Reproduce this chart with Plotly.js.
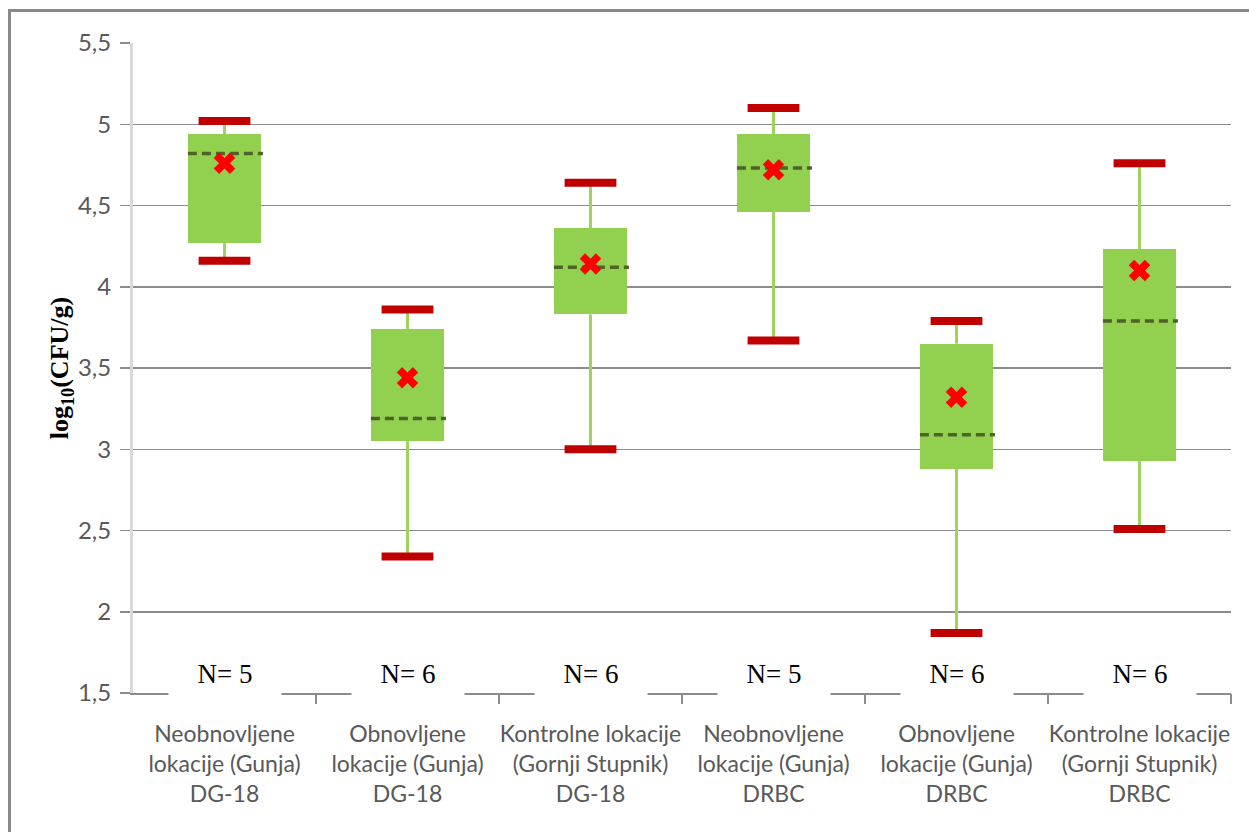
<!DOCTYPE html>
<html>
<head>
<meta charset="utf-8">
<script src="https://cdn.plot.ly/plotly-3.0.1.min.js"></script>
<style>
  html, body { margin: 0; padding: 0; background: #fff; }
  #wrap { position: relative; width: 1249px; height: 832px; overflow: hidden; }
  #frame { position: absolute; left: 8px; top: 9px; width: 1300px; height: 900px;
           border-left: 3px solid #8a8a8a; border-top: 3px solid #8a8a8a; }
  #chart { position: absolute; left: 0; top: 0; width: 1249px; height: 832px; }
</style>
</head>
<body>
<div id="wrap">
  <div id="frame"></div>
  <div id="chart"></div>
</div>
<script>
// ---- data ----
const categories = [
  "Neobnovljene<br>lokacije (Gunja)<br>DG-18",
  "Obnovljene<br>lokacije (Gunja)<br>DG-18",
  "Kontrolne lokacije<br>(Gornji Stupnik)<br>DG-18",
  "Neobnovljene<br>lokacije (Gunja)<br>DRBC",
  "Obnovljene<br>lokacije (Gunja)<br>DRBC",
  "Kontrolne lokacije<br>(Gornji Stupnik)<br>DRBC"
];
const nCounts = [5, 6, 6, 5, 6, 6];
const mins    = [4.16, 2.34, 3.00, 3.67, 1.87, 2.51];
const q1      = [4.27, 3.05, 3.83, 4.46, 2.88, 2.93];
const medians = [4.82, 3.19, 4.12, 4.73, 3.09, 3.79];
const q3      = [4.94, 3.74, 4.36, 4.94, 3.65, 4.23];
const maxs    = [5.02, 3.86, 4.64, 5.10, 3.79, 4.76];
const means   = [4.76, 3.44, 4.14, 4.72, 3.32, 4.10];
const yTicks  = [1.5, 2, 2.5, 3, 3.5, 4, 4.5, 5, 5.5];

// ---- derived positions ----
const idx = categories.map((_, i) => i);
const boundaries = idx.map(i => i + 0.5);
const boxHalf = 0.2;

const wx = [], wy = [];
idx.forEach(i => {
  wx.push(i, i, null, i, i, null);
  wy.push(mins[i], q1[i], null, q3[i], maxs[i], null);
});
const mx = [], my = [];
idx.forEach(i => {
  mx.push(i - boxHalf, i + boxHalf + 0.01, null);
  my.push(medians[i], medians[i], null);
});

const traces = [
  { type: 'bar', x: idx, base: q1, y: idx.map(i => q3[i] - q1[i]),
    width: 2 * boxHalf, marker: { color: '#92D050', line: { width: 0 } },
    hoverinfo: 'skip', showlegend: false },
  { type: 'scatter', mode: 'lines', x: wx, y: wy,
    line: { color: '#9ED35F', width: 3 }, hoverinfo: 'skip', showlegend: false },
  { type: 'scatter', mode: 'markers', x: idx.concat(idx), y: maxs.concat(mins),
    marker: { symbol: 'line-ew', size: 37, line: { color: '#C00000', width: 8 } },
    hoverinfo: 'skip', showlegend: false },
  { type: 'scatter', mode: 'lines', x: mx, y: my,
    line: { color: '#4F6228', width: 3.5, dash: '9px,5px' }, hoverinfo: 'skip', showlegend: false },
  { type: 'scatter', mode: 'markers', x: idx, y: means,
    marker: { symbol: 'x', size: 19, color: '#FF0000', line: { width: 0 } },
    hoverinfo: 'skip', showlegend: false },
  { type: 'scatter', mode: 'markers', x: boundaries, y: boundaries.map(() => 1.5),
    xaxis: 'x2', marker: { opacity: 0 }, hoverinfo: 'skip', showlegend: false }
];

const annotations = idx.map(i => ({
  x: i, xref: 'x', y: 0, yref: 'paper', yanchor: 'middle', yshift: 19,
  text: 'N= ' + nCounts[i], showarrow: false,
  font: { family: 'Liberation Serif, Times New Roman, serif', size: 27, color: '#000' },
  bgcolor: '#ffffff', width: 104, height: 38, borderpad: 4
}));

const layout = {
  width: 1249, height: 832,
  margin: { l: 133, r: 18, t: 43, b: 139 },
  paper_bgcolor: 'rgba(0,0,0,0)', plot_bgcolor: 'rgba(0,0,0,0)',
  separators: ',.',
  showlegend: false,
  xaxis: {
    range: [-0.5, 5.5], tickvals: idx, ticktext: categories,
    ticks: '', showgrid: false, zeroline: false,
    showline: true, linecolor: '#8c8c8c', linewidth: 1.5,
    ticklabelstandoff: 20,
    tickfont: { family: 'Lato, Liberation Sans, sans-serif', size: 23, color: '#595959' },
    fixedrange: true
  },
  xaxis2: {
    overlaying: 'x', matches: 'x', range: [-0.5, 5.5], tickvals: boundaries,
    showticklabels: false, ticks: 'outside', ticklen: 10, tickwidth: 1.5, tickcolor: '#8c8c8c',
    showgrid: false, zeroline: false, showline: false, anchor: 'y'
  },
  yaxis: {
    range: [1.5, 5.5], tickvals: yTicks,
    ticks: 'outside', ticklen: 10, tickwidth: 1.5, tickcolor: '#8c8c8c',
    showgrid: true, gridcolor: '#8c8c8c', gridwidth: 1.5, zeroline: false,
    showline: true, linecolor: '#D9D9D9', linewidth: 3,
    ticklabelstandoff: 4,
    tickfont: { family: 'Lato, Liberation Sans, sans-serif', size: 24, color: '#595959' },
    title: { text: '<b>log<sub>10</sub>(CFU/g)</b>', standoff: 2,
             font: { family: 'Liberation Serif, Times New Roman, serif', size: 26, color: '#000' } },
    fixedrange: true
  },
  annotations: annotations,
  bargap: 0
};

Plotly.newPlot('chart', traces, layout, { staticPlot: true, displayModeBar: false });
</script>
</body>
</html>
